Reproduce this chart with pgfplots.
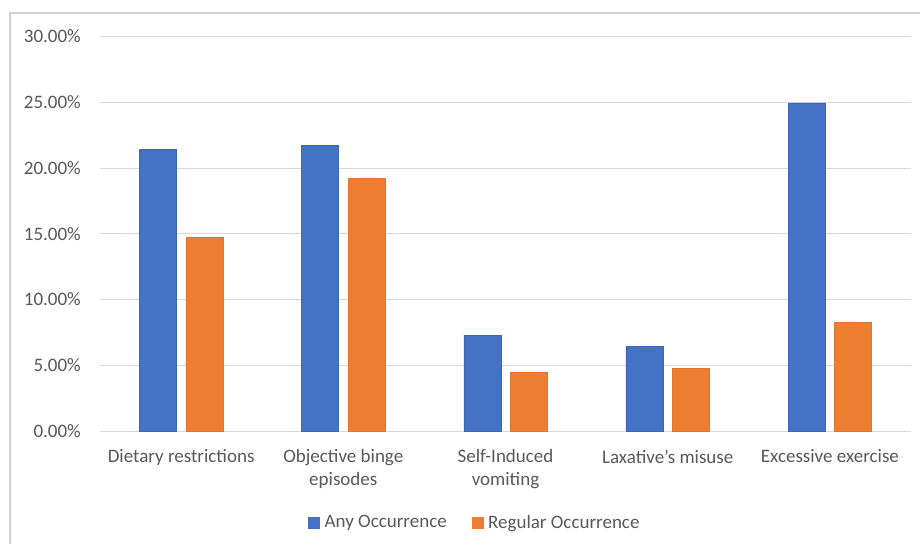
\documentclass[border=0pt]{standalone}
\usepackage{fontspec}
\setmainfont{Carlito}
\usepackage{pgfplots}
\pgfplotsset{compat=1.18}
\definecolor{barblue}{HTML}{4472C4}
\definecolor{barorange}{HTML}{ED7D31}
\definecolor{textgray}{HTML}{595959}
\definecolor{gridgray}{HTML}{D9D9D9}
\definecolor{framegray}{HTML}{D0D0D0}
\begin{document}
\begin{tikzpicture}[x=1pt,y=1pt]
\path[use as bounding box] (0,0) rectangle (920,544);
\fill[white] (0,0) rectangle (920,544);
\draw[framegray, line width=1.2pt] (10,0) -- (10,531) -- (920,531);
\begin{axis}[
  at={(100pt,113pt)}, anchor=south west,
  width=811pt, height=394.5pt, scale only axis,
  ybar=9.5pt, bar width=37pt,
  xmin=-0.5, xmax=4.5, ymin=0, ymax=30,
  xtick={0,1,2,3,4},
  xticklabels={Dietary restrictions, {Objective binge\\episodes}, {Self-Induced\\vomiting}, {Laxative’s misuse}, Excessive exercise},
  ytick={0,5,10,15,20,25,30},
  yticklabel={\pgfmathprintnumber[fixed,fixed zerofill,precision=2]{\tick}\%},
  /pgf/number format/assume math mode=true,
  ymajorgrids, grid style={gridgray, line width=1pt},
  axis x line*=bottom, axis y line*=left,
  x axis line style={draw=gridgray, line width=1pt, -},
  y axis line style={draw=none},
  major tick length=0pt,
  tick label style={text=textgray, font=\fontsize{19}{23}\selectfont},
  yticklabel style={anchor=east, inner sep=0pt, xshift=-19pt},
  xticklabel style={anchor=north, inner sep=0pt, yshift=-18.5pt, align=center},
  legend columns=2,
  legend style={at={(0.461,-0.232)}, anchor=center, draw=none, fill=none,
    font=\fontsize{19}{22}\selectfont, text=textgray,
    /tikz/every even column/.append style={column sep=25pt},
    nodes={inner sep=0pt, xshift=0pt},
    /tikz/every odd column/.append style={column sep=5pt}},
]
\addplot[fill=barblue, draw=barblue!90!black, line width=0.4pt,
  legend image code/.code={\fill[barblue] (0pt,-5.5pt) rectangle (11pt,5.5pt);}]
  coordinates {(0,21.4) (1,21.7) (2,7.3) (3,6.45) (4,24.95)};
\addplot[fill=barorange, draw=barorange!95!black, line width=0.4pt,
  legend image code/.code={\fill[barorange] (0pt,-5.5pt) rectangle (11pt,5.5pt);}]
  coordinates {(0,14.7) (1,19.2) (2,4.45) (3,4.75) (4,8.25)};
\legend{Any Occurrence, Regular Occurrence}
\end{axis}
\end{tikzpicture}
\end{document}
